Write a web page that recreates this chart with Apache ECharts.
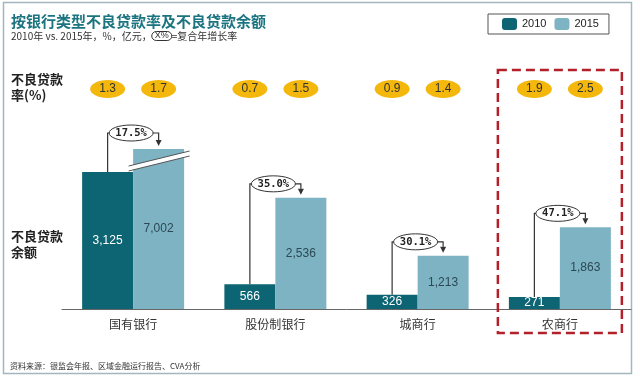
<!DOCTYPE html>
<html>
<head>
<meta charset="utf-8">
<script src="https://cdn.jsdelivr.net/npm/echarts@6/dist/echarts.min.js"></script>
<style>
  html, body { margin: 0; padding: 0; background: #fff; }
  #main { width: 640px; height: 378px; }
</style>
</head>
<body>
<div id="main"></div>
<script>
// 数据
var categories = ['国有银行', '股份制银行', '城商行', '农商行'];
var npl2010 = [3125, 566, 326, 271];      // 不良贷款余额 2010, 亿元
var npl2015 = [7002, 2536, 1213, 1863];   // 不良贷款余额 2015, 亿元
var rate2010 = [1.3, 0.7, 0.9, 1.9];      // 不良贷款率 2010, %
var rate2015 = [1.7, 1.5, 1.4, 2.5];      // 不良贷款率 2015, %
var cagr = [17.5, 35.0, 30.1, 47.1];      // 复合年增长率, %
var highlightIndex = 3;                   // 红框标出的类别

var Y_MAX = 3650;   // 国有银行 2015 的柱子被截断
var BAR_W = 51;
var FONT = '"Noto Sans CJK SC", sans-serif';

var myChart = echarts.init(document.getElementById('main'));

function fmt(v) {
    return v.toLocaleString('en-US');
}

// 椭圆符号
var ellipse = 'path://M0,9C0,4.03 7.83,0 17.5,0C27.17,0 35,4.03 35,9C35,13.97 27.17,18 17.5,18C7.83,18 0,13.97 0,9Z';

// 增长率括号 + 截断标记
function renderGrowth(params, api) {
    var i = api.value(0);
    var a = api.value(1);
    var raw = api.value(2);
    var b = Math.min(raw, Y_MAX);
    var p1 = api.coord([i, a]);
    var p2 = api.coord([i, b]);
    var x1 = p1[0] - BAR_W / 2;
    var x2 = p2[0] + BAR_W / 2;
    var yb = p2[1];
    var topY = yb - 14;
    var children = [];

    if (raw > Y_MAX) {
        children.push({
            type: 'polygon',
            shape: { points: [[x2 - 30, yb + 17], [x2 + 31, yb + 2], [x2 + 31, yb + 7], [x2 - 30, yb + 22]] },
            style: { fill: '#fff' }
        });
        children.push({
            type: 'line',
            shape: { x1: x2 - 30, y1: yb + 17, x2: x2 + 31, y2: yb + 2 },
            style: { stroke: '#555', lineWidth: 1 }
        });
        children.push({
            type: 'line',
            shape: { x1: x2 - 30, y1: yb + 22, x2: x2 + 31, y2: yb + 7 },
            style: { stroke: '#555', lineWidth: 1 }
        });
        topY = yb - 16;
    }

    children.push({
        type: 'polyline',
        shape: { points: [[x1, p1[1]], [x1, topY], [x2, topY], [x2, yb - 9]] },
        style: { stroke: '#333', lineWidth: 1.2, fill: null }
    });
    children.push({
        type: 'polygon',
        shape: { points: [[x2 - 3, yb - 9], [x2 + 3, yb - 9], [x2, yb - 3]] },
        style: { fill: '#333' }
    });
    children.push({
        type: 'ellipse',
        shape: { cx: (x1 + x2) / 2 - 2, cy: topY, rx: 22, ry: 8 },
        style: { fill: '#fff', stroke: '#333', lineWidth: 1 }
    });
    children.push({
        type: 'text',
        x: (x1 + x2) / 2 - 2,
        y: topY,
        style: {
            text: api.value(3).toFixed(1) + '%',
            fill: '#222',
            font: 'bold 10.5px "DejaVu Sans Mono", monospace',
            align: 'center',
            verticalAlign: 'middle'
        }
    });
    return { type: 'group', children: children };
}

var option = {
    animation: false,
    legend: {
        data: ['2010', '2015'],
        left: 488,
        top: 14,
        padding: [4, 10, 4, 14],
        itemGap: 8,
        itemWidth: 15,
        itemHeight: 12,
        borderColor: '#555',
        borderWidth: 1,
        textStyle: { color: '#222', fontSize: 11, fontFamily: 'Liberation Sans' }
    },
    grid: [
        { left: 62, right: 9, top: 149, bottom: 69 },
        { left: 62, right: 9, top: 80, height: 18 }
    ],
    xAxis: [
        {
            type: 'category',
            data: categories,
            gridIndex: 0,
            axisTick: { show: false },
            axisLine: { lineStyle: { color: '#666', width: 1 } },
            axisLabel: { color: '#333', fontSize: 12, margin: 9, fontFamily: FONT }
        },
        {
            type: 'category',
            data: categories,
            gridIndex: 1,
            show: false
        }
    ],
    yAxis: [
        { type: 'value', gridIndex: 0, min: 0, max: Y_MAX, show: false },
        { type: 'value', gridIndex: 1, min: -1, max: 1, show: false }
    ],
    series: [
        {
            name: '2010',
            type: 'bar',
            data: npl2010,
            barWidth: BAR_W,
            barGap: '0%',
            itemStyle: { color: '#0D6472' },
            label: {
                show: true, position: 'inside', color: '#fff', fontSize: 12,
                fontFamily: 'Liberation Sans',
                formatter: function (p) { return fmt(p.value); }
            }
        },
        {
            name: '2015',
            type: 'bar',
            data: npl2015,
            barWidth: BAR_W,
            barGap: '0%',
            clip: true,
            itemStyle: { color: '#7DB3C2' },
            label: {
                show: true, position: 'inside', color: '#2C4856', fontSize: 12,
                fontFamily: 'Liberation Sans',
                formatter: function (p) { return fmt(p.value); }
            }
        },
        {
            type: 'custom',
            xAxisIndex: 0,
            yAxisIndex: 0,
            renderItem: renderGrowth,
            encode: { x: 0, y: [1, 2] },
            z: 5,
            data: categories.map(function (c, i) { return [i, npl2010[i], npl2015[i], cagr[i]]; })
        },
        {
            type: 'scatter',
            xAxisIndex: 1,
            yAxisIndex: 1,
            symbol: ellipse,
            symbolSize: [35, 18],
            symbolOffset: [-BAR_W / 2, 0],
            itemStyle: { color: '#F4B70C', opacity: 1 },
            label: {
                show: true, position: 'inside', color: '#333', fontSize: 12,
                fontFamily: 'Liberation Sans',
                formatter: function (p) { return p.value[2].toFixed(1); }
            },
            data: rate2010.map(function (r, i) { return [i, 0, r]; })
        },
        {
            type: 'scatter',
            xAxisIndex: 1,
            yAxisIndex: 1,
            symbol: ellipse,
            symbolSize: [35, 18],
            symbolOffset: [BAR_W / 2, 0],
            itemStyle: { color: '#F4B70C', opacity: 1 },
            label: {
                show: true, position: 'inside', color: '#333', fontSize: 12,
                fontFamily: 'Liberation Sans',
                formatter: function (p) { return p.value[2].toFixed(1); }
            },
            data: rate2015.map(function (r, i) { return [i, 0, r]; })
        }
    ]
};

myChart.setOption(option);

// 文字和框
var hx = myChart.convertToPixel({ xAxisIndex: 0 }, highlightIndex);
myChart.setOption({
    graphic: [
        {
            type: 'rect', silent: true, z: 0,
            shape: { x: 3.5, y: 2.5, width: 628, height: 371 },
            style: { fill: null, stroke: '#A3B6BE', lineWidth: 1.5 }
        },
        {
            type: 'text', left: 11, top: 14,
            style: { text: '按银行类型不良贷款率及不良贷款余额', fill: '#1B7480', font: 'bold 15px ' + FONT }
        },
        {
            type: 'text', left: 11, top: 31,
            style: {
                text: '2010年 vs. 2015年，%，亿元，{e|X%}=复合年增长率',
                fill: '#333', font: '10px ' + FONT,
                rich: { e: { borderColor: '#333', borderWidth: 1, borderRadius: 7, padding: [0, 3], fontSize: 9 } }
            }
        },
        {
            type: 'text', left: 11, top: 71,
            style: { text: '不良贷款\n率(%)', fill: '#222', font: 'bold 13px ' + FONT, lineHeight: 16 }
        },
        {
            type: 'text', left: 11, top: 228,
            style: { text: '不良贷款\n余额', fill: '#222', font: 'bold 13px ' + FONT, lineHeight: 16 }
        },
        {
            type: 'text', left: 10, top: 362,
            style: { text: '资料来源：银监会年报、区域金融运行报告、CVA分析', fill: '#333', font: '8px ' + FONT }
        },
        {
            type: 'rect', silent: true, z: 10,
            shape: { x: hx - 62, y: 70, width: 124, height: 263 },
            style: { fill: null, stroke: '#B3202A', lineWidth: 2.5, lineDash: [9, 5] }
        }
    ]
});
</script>
</body>
</html>
